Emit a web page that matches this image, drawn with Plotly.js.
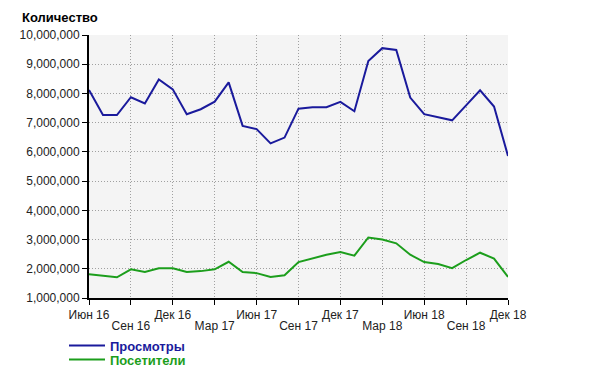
<!DOCTYPE html>
<html><head><meta charset="utf-8">
<script src="https://cdn.plot.ly/plotly-3.0.1.min.js"></script>
<style>html,body{margin:0;padding:0;background:#fff}#chart{width:600px;height:382px}</style>
</head><body><div id="chart"></div>
<script>
const months = ["Июн 16","Июл 16","Авг 16","Сен 16","Окт 16","Ноя 16","Дек 16","Янв 17","Фев 17","Мар 17","Апр 17","Май 17","Июн 17","Июл 17","Авг 17","Сен 17","Окт 17","Ноя 17","Дек 17","Янв 18","Фев 18","Мар 18","Апр 18","Май 18","Июн 18","Июл 18","Авг 18","Сен 18","Окт 18","Ноя 18","Дек 18"];
const views = [8120000,7260000,7260000,7870000,7660000,8480000,8140000,7290000,7460000,7720000,8380000,6890000,6780000,6290000,6490000,7480000,7530000,7530000,7710000,7390000,9110000,9550000,9490000,7860000,7290000,7180000,7080000,7590000,8110000,7550000,5860000];
const visitors = [1810000,1770000,1710000,1980000,1890000,2020000,2020000,1890000,1920000,1980000,2240000,1890000,1850000,1720000,1780000,2230000,2360000,2480000,2570000,2450000,3070000,3000000,2870000,2480000,2230000,2160000,2020000,2300000,2550000,2350000,1720000];
const tickRow1 = ["Июн 16","Дек 16","Июн 17","Дек 17","Июн 18","Дек 18"];
const tickRow2 = ["Сен 16","Мар 17","Сен 17","Мар 18","Сен 18"];
const allTicks = months.filter((m,i)=>i%3===0);
const yTicks = [1e6,2e6,3e6,4e6,5e6,6e6,7e6,8e6,9e6,1e7];
const seriesNames = ["Просмотры","Посетители"];
const blue = "#1a1a9c", green = "#1c9e1c";
const font = "Liberation Sans, Arial, sans-serif";

const traces = [
  {x: months, y: views, type:'scatter', mode:'lines', name:'<b>'+seriesNames[0]+'</b>', line:{color:blue,width:2}, legend:'legend'},
  {x: months, y: visitors, type:'scatter', mode:'lines', name:'<b>'+seriesNames[1]+'</b>', line:{color:green,width:2}, legend:'legend2'}
];
const layout = {
  width:600, height:382,
  margin:{l:89, r:92, t:35, b:84, autoexpand:false},
  paper_bgcolor:'#ffffff', plot_bgcolor:'#f4f4f4',
  font:{family:font, size:12, color:'#222'},
  title:{text:'<b>Количество</b>', xref:'container', yref:'container', x:22/600, xanchor:'left', y:1-17/382, yanchor:'middle', font:{family:font,size:13,color:'#000'}},
  xaxis:{type:'category', categoryarray:months, range:[0,30], tickvals:allTicks,
    ticktext:allTicks.map(t=>tickRow1.includes(t)?t:''),
    showline:true, linecolor:'#000', linewidth:2, ticks:'outside', ticklen:5, tickcolor:'#000', tickwidth:1,
    showgrid:true, gridcolor:'#a0a0a0', griddash:'1px,2px', gridwidth:1, zeroline:false, automargin:false,
    tickfont:{family:font,size:12,color:'#222'}},
  xaxis2:{type:'category', categoryarray:months, range:[0,30], overlaying:'x', anchor:'y', side:'bottom',
    tickvals:tickRow2, ticktext:tickRow2, ticks:'', showgrid:false, showline:false, zeroline:false, automargin:false,
    ticklabelstandoff:19, tickfont:{family:font,size:12,color:'#222'}},
  yaxis:{range:[1e6,1e7], tickvals:yTicks, tickformat:',d',
    showline:true, linecolor:'#000', linewidth:2, ticks:'outside', ticklen:5, tickcolor:'#000', tickwidth:1,
    showgrid:true, gridcolor:'#a0a0a0', griddash:'1px,2px', gridwidth:1, zeroline:false, automargin:false,
    tickfont:{family:font,size:12,color:'#222'}},
  legend:{x:64/600, xref:'container', y:1-345.5/382, yref:'container', xanchor:'left', yanchor:'middle', itemwidth:36, bgcolor:'rgba(0,0,0,0)', font:{family:font,size:13,color:blue}},
  legend2:{x:64/600, xref:'container', y:1-359.5/382, yref:'container', xanchor:'left', yanchor:'middle', itemwidth:36, bgcolor:'rgba(0,0,0,0)', font:{family:font,size:13,color:green}},
  showlegend:true
};
// invisible helper trace so the second (staggered-label) x axis is drawn
traces.push({x:months, y:views, xaxis:'x2', yaxis:'y', type:'scatter', mode:'lines', line:{width:0}, opacity:0, showlegend:false, hoverinfo:'skip'});
Plotly.newPlot('chart', traces, layout, {displayModeBar:false, staticPlot:true});
</script></body></html>
